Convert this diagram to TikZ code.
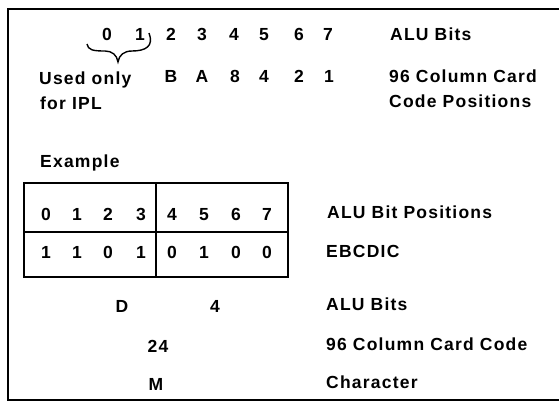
\documentclass[tikz,border=0pt]{standalone}
\usepackage{fontspec}
\setmainfont[LetterSpace=7]{Liberation Sans}
\begin{document}
\begin{tikzpicture}[x=1pt,y=-1pt,
  txt/.style={inner sep=0pt,font=\fontsize{17.5}{19}\selectfont\bfseries},
  lbl/.style={txt,anchor=base west},
  dig/.style={txt,anchor=base},
  frame/.style={line width=1.4pt},
  grid/.style={line width=1.3pt}]
\useasboundingbox (0,0) rectangle (559,402);
% outer frame (right side cut off)
\draw[frame] (559,9) -- (8,9) -- (8,400) -- (559,400);
% top rows
\foreach \d/\x in {0/107,1/140,2/171,3/202,4/234,5/264,6/299,7/328}
  \node[dig] (t\d) at (\x,40) {\d};
\node[lbl] (alub) at (390,40) {ALU Bits};
\foreach \n/\c/\x in {b/B/171,a/A/202,e/8/235,f/4/264,g/2/299,h/1/329}
  \node[dig] (c\n) at (\x,82) {\c};
\node[lbl] (used) at (39,84) {Used only};
\node[lbl] (ipl) at (40,109) {for IPL};
\node[lbl] (card1) at (389,82) {96 Column Card};
\node[lbl] (card2) at (389,107) {Code Positions};
% brace
\draw[line width=1.4pt] (87,44) .. controls (88,50) and (93,51) .. (105,51)
   .. controls (112,51) and (117,55) .. (118,62)
   .. controls (119,55) and (124,51) .. (132,51)
   .. controls (146,51) and (154,46) .. (149,33);
\node[lbl] (ex) at (40,167) {Example};
% table
\draw[grid] (24,183) rectangle (288,277);
\draw[grid] (24,232) -- (288,232);
\draw[grid] (156,183) -- (156,277);
\foreach \d/\x in {0/46,1/77,2/108,3/141,4/172,5/204,6/236,7/267}
  \node[dig] (p\d) at (\x,220) {\d};
\foreach \i/\v/\x in {0/1/46,1/1/77,2/0/108,3/1/141,4/0/172,5/1/204,6/0/236,7/0/267}
  \node[dig] (e\i) at (\x,258) {\v};
\node[lbl] (alubp) at (327,218) {ALU Bit Positions};
\node[lbl] (ebc) at (326,257) {EBCDIC};
% lower
\node[dig] (dd) at (122,312) {D};
\node[dig] (df) at (215,312) {4};
\node[dig] (tf) at (158,352) {24};
\node[dig] (mm) at (156,390) {M};
\node[lbl] (alub2) at (326,310) {ALU Bits};
\node[lbl] (card3) at (326,350) {96 Column Card Code};
\node[lbl] (chr) at (326,388) {Character};
\end{tikzpicture}
\end{document}
